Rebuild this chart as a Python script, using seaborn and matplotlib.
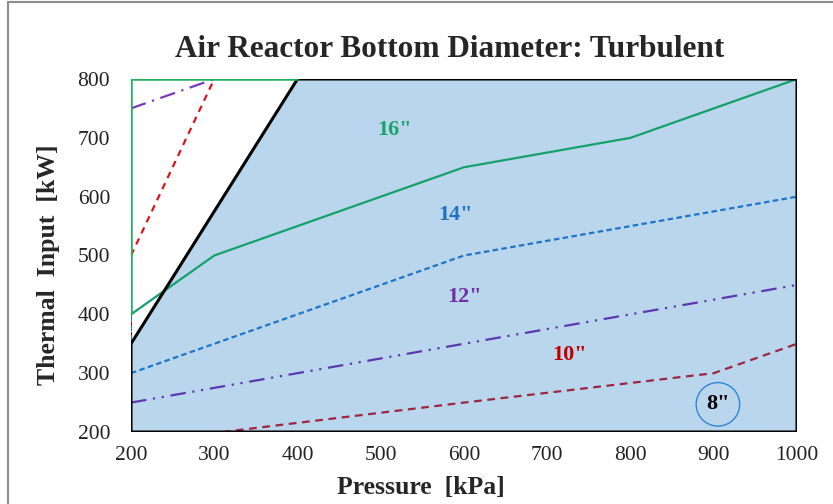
import matplotlib
matplotlib.use("Agg")
import matplotlib.pyplot as plt
import seaborn as sns
import pandas as pd
from matplotlib.patches import Rectangle

sns.set_theme(style="white")
plt.rcParams["font.family"] = ["Liberation Serif", "DejaVu Serif"]

# Diameter boundary curves: pressure [kPa] vs thermal input [kW]
p_16 = [200, 300, 600, 800, 1000]
t_16 = [400, 500, 650, 700, 800]
p_14 = [200, 600, 1000]
t_14 = [300, 500, 600]
p_12 = [200, 600, 1000]
t_12 = [250, 350, 450]
p_10 = [310, 600, 900, 1000]
t_10 = [200, 250, 300, 350]

# Upper-left fragments of the 12" and 10" curves
p_12_hi = [200, 300]
t_12_hi = [750, 800]
p_10_hi = [200, 300]
t_10_hi = [500, 800]

# Left-edge pieces of the curves
p_10_edge = [200, 200]
t_10_edge = [200, 500]
p_14_edge = [200, 200]
t_14_edge = [300, 400]
p_16_edge = [400, 200, 200]
t_16_edge = [800, 800, 400]

# Turbulent regime limit
p_limit = [200, 400]
t_limit = [350, 800]

x_ticks = [200, 300, 400, 500, 600, 700, 800, 900, 1000]
y_ticks = [200, 300, 400, 500, 600, 700, 800]

labels = ['16"', '14"', '12"', '10"', '8"']
label_p = [517, 590, 601, 727, 905]
label_t = [713, 569, 430, 331, 247]
label_colors = ["#1AA36A", "#1F72C4", "#7030A0", "#C00000", "#000000"]

fig = plt.figure(figsize=(8.33, 5.04), dpi=100)
ax = fig.add_axes([131 / 833, 1 - 432 / 504, 666 / 833, 353 / 504])

xmin, xmax = x_ticks[0], x_ticks[-1]
ymin, ymax = y_ticks[0], y_ticks[-1]

# Shaded turbulent region
region_x = [xmin, p_limit[0], p_limit[1], xmax, xmax]
region_y = [ymin, t_limit[0], t_limit[1], ymax, ymin]
ax.fill(region_x, region_y, color="#BAD6EC", zorder=1, lw=0)


def draw(px, ty, color, lw, dashes=None, z=3):
    df = pd.DataFrame({"p": px, "t": ty})
    sns.lineplot(data=df, x="p", y="t", sort=False, estimator=None,
                 color=color, lw=lw, ax=ax, zorder=z)
    l = ax.lines[-1]
    if dashes is not None:
        l.set_dashes(dashes)
    l.set_solid_capstyle("butt")
    l.set_dash_capstyle("butt")


draw(p_10_edge, t_10_edge, "#C00000", 1.5, (3, 2), z=2)
draw(p_14_edge, t_14_edge, "#1F72C4", 1.5, (3, 2), z=2)
draw(p_10, t_10, "#9B2743", 1.6, (3.5, 2.5))
draw(p_12, t_12, "#5B3AB0", 1.6, (7, 3, 1, 3, 1, 3))
draw(p_14, t_14, "#1F76C8", 1.6, (2.5, 1.5))
draw(p_16, t_16, "#16A06B", 1.6)
draw(p_12_hi, t_12_hi, "#7A3AB8", 1.6, (7, 3, 1, 3))
draw(p_10_hi, t_10_hi, "#D8141C", 1.6, (3, 2.5))
draw(p_16_edge, t_16_edge, "#1DB35A", 1.8, z=5)

# Region outline
draw([p_limit[1], xmax, xmax, xmin, xmin, p_limit[0], p_limit[1]],
     [ymax, ymax, ymin, ymin, t_limit[0], t_limit[0], t_limit[1]],
     "#000000", 2.2, z=4)

for text, px, ty, c in zip(labels, label_p, label_t, label_colors):
    if text == '8"':
        ax.text(px, ty, text, color=c, fontsize=16, fontweight="bold",
                ha="center", va="center", zorder=6,
                bbox=dict(boxstyle="circle,pad=0.45", fc="none",
                          ec="#2F86D6", lw=1.0))
    else:
        ax.text(px, ty, text, color=c, fontsize=16, fontweight="bold",
                ha="center", va="center", zorder=6)

ax.set_xlim(xmin, xmax)
ax.set_ylim(ymin, ymax)
ax.set_xticks(x_ticks)
ax.set_yticks(y_ticks)
ax.tick_params(axis="both", length=0, labelsize=15.5, colors="#222222")
ax.tick_params(axis="y", pad=15)
ax.tick_params(axis="x", pad=10)
for s in ax.spines.values():
    s.set_visible(False)
ax.set_facecolor("white")

ax.set_xlabel("Pressure  [kPa]", fontsize=18.5, fontweight="bold")
ax.set_ylabel("Thermal  Input  [kW]", fontsize=18.5, fontweight="bold")
ax.xaxis.set_label_coords(0.435, -0.125)
ax.yaxis.set_label_coords(-0.107, 0.475)
ax.set_title("Air Reactor Bottom Diameter: Turbulent", fontsize=22.5,
             fontweight="bold", pad=16, x=0.479)

# Frame around the figure
fig.patches.append(Rectangle((8 / 833, -0.01), 1.02, 1 - 2 / 504 + 0.01,
                             transform=fig.transFigure, fill=False,
                             ec="#8C8C8C", lw=1.5))

fig.savefig("out.png", dpi=100)
